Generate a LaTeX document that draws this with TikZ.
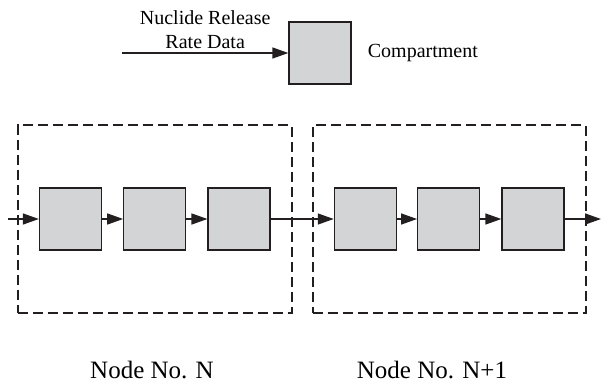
\documentclass[tikz,border=0pt]{standalone}
\usepackage{fontspec}
\setmainfont{Liberation Serif}
\usetikzlibrary{arrows.meta,positioning,fit,backgrounds}
\definecolor{compgray}{RGB}{211,212,214}
\definecolor{inkblack}{RGB}{35,31,32}

\begin{document}
\begin{tikzpicture}
    [x=1pt,y=-1pt,
    node distance=21pt,
    compartment/.style={rectangle,draw=inkblack,fill=compgray,line width=1.3pt,
                        inner sep=0pt,minimum size=62pt},
    nodebox/.style={rectangle,draw=inkblack,line width=2pt,
                    dash pattern=on 10pt off 5pt,inner xsep=21pt,inner ysep=62pt},
    pre/.style={<-,>={Triangle[length=16pt,width=11pt]},line width=1.4pt,draw=inkblack},
    post/.style={->,>={Triangle[length=16pt,width=11pt]},line width=1.4pt,draw=inkblack},
    small/.style={font=\fontsize{20}{24}\selectfont},
    big/.style={font=\fontsize{25}{30}\selectfont}]

    \useasboundingbox (0,0) rectangle (601,385);

    % legend
    \node[compartment] (legend) at (320,53) {};
    \coordinate (legend in) at (122,53);
    \draw[post] (legend in) -- node[above=4pt,inner sep=0pt,text depth=0pt,
        align=center,small] (rate label) {Nuclide Release\\Rate Data} (legend);
    \node[small,anchor=west,inner sep=0pt] (legend label) [right=16pt of legend] {Compartment};

    % chain of compartments
    \coordinate (inflow) at (8,219);
    \node[compartment] (comp 1) at (70.5,219) {};
    \node[compartment] (comp 2) [right=of comp 1] {}
        edge[pre] (comp 1);
    \node[compartment] (comp 3) [right=of comp 2] {}
        edge[pre] (comp 2);
    \node[compartment] (comp 4) [right=63pt of comp 3] {}
        edge[pre] (comp 3);
    \node[compartment] (comp 5) [right=20pt of comp 4] {}
        edge[pre] (comp 4);
    \node[compartment] (comp 6) [right=of comp 5] {}
        edge[pre] (comp 5);
    \coordinate (outflow) at (601,219);
    \draw[post] (inflow) -- (comp 1);
    \draw[post] (comp 6) -- (outflow);

    \begin{scope}[on background layer]
        \node[nodebox,fit=(comp 1) (comp 3)] (node n) {};
        \node[nodebox,fit=(comp 4) (comp 6)] (node n1) {};
    \end{scope}

    \node[big,anchor=base] (label n) at (152,378) {Node No. N};
    \node[big,anchor=base] (label n1) at (432,378) {Node No. N+1};
\end{tikzpicture}
\end{document}
